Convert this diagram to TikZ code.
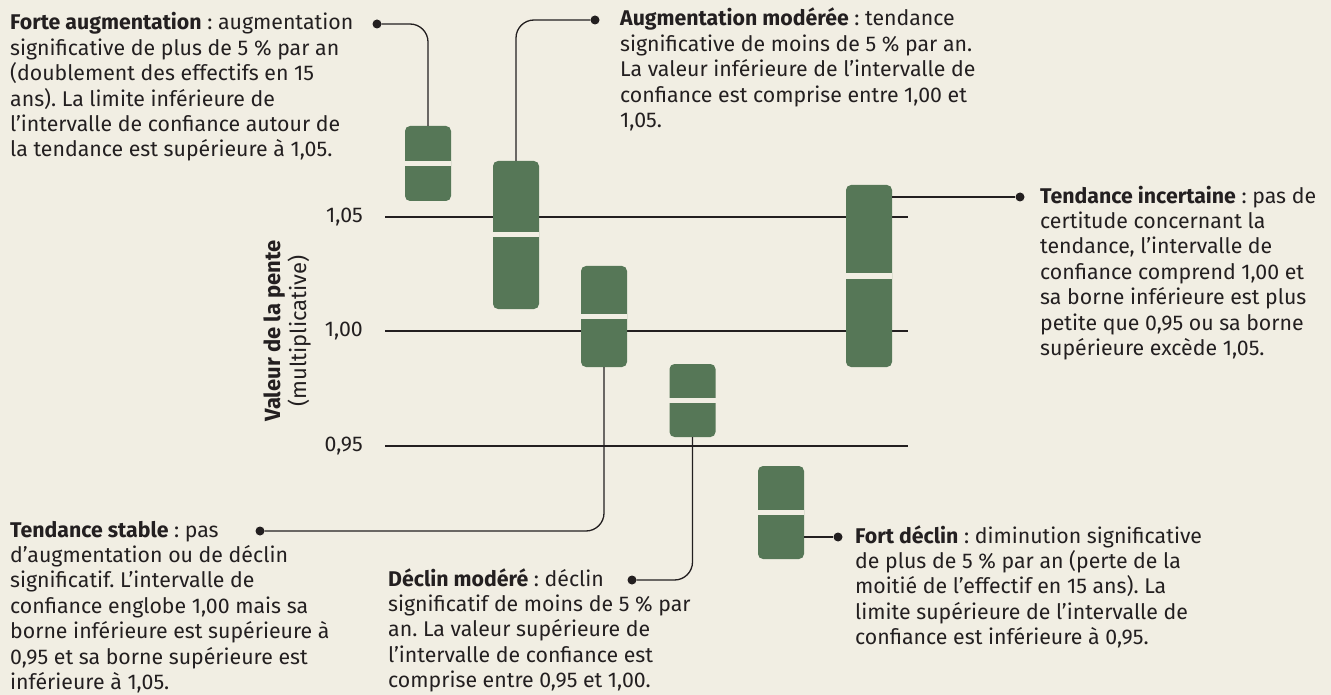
\documentclass[tikz,border=0pt]{standalone}
\usepackage{fontspec}
\setmainfont{Fira Sans}
\frenchspacing
\definecolor{fond}{HTML}{F1EEE3}
\definecolor{vert}{HTML}{567757}
\definecolor{encre}{HTML}{231F20}

\begin{document}
\begin{tikzpicture}[
  x=1pt, y=-1pt,
  bar/.style={fill=vert, rounded corners=5pt, minimum width=46pt, inner sep=0pt},
  med/.style={draw=fond, line width=5pt},
  grid/.style={draw=encre, line width=1.2pt},
  conn/.style={draw=encre, line width=1.3pt, rounded corners=18pt},
  dot/.style={circle, fill=encre, inner sep=0pt, minimum size=9pt},
  note/.style={align=left, anchor=base west, inner sep=0pt, text=encre,
               font=\fontsize{21.3}{25.4}\selectfont},
  tick/.style={anchor=east, inner sep=0pt, text=encre, font=\fontsize{21.3}{24}\selectfont}
]
\fill[fond] (0,0) rectangle (1331,695);
\useasboundingbox (0,0) rectangle (1331,695);

% axe
\node[tick] (t105) at (363,217) {1,05};
\node[tick] (t100) at (363,331) {1,00};
\node[tick] (t095) at (363,446) {0,95};
\draw[grid] (385,217) -- (908,217);
\draw[grid] (385,331) -- (908,331);
\draw[grid] (385,446) -- (908,446);
\node[rotate=90, align=center, text=encre, inner sep=0pt,
      font=\fontsize{22}{26}\selectfont] (titre) at (287,331)
  {\bfseries Valeur de la pente\\(multiplicative)};

% intervalles
\node[bar, minimum height=75pt]  (fort)  at (428,163.5) {};
\node[bar, minimum height=148pt] (mod)   at (516,235)   {};
\node[bar, minimum height=101pt] (stab)  at (604,316.5) {};
\node[bar, minimum height=73pt]  (dmod)  at (692.5,400.5) {};
\node[bar, minimum height=93pt]  (dfort) at (781,512.5) {};
\node[bar, minimum height=182pt] (inc)   at (869,276)   {};
\foreach \b in {fort,mod,stab,dmod,dfort,inc}
  \draw[med] (\b.west) -- (\b.east);

% points
\node[dot] (pfort)  at (377,24)  {};
\node[dot] (pmod)   at (595,20)  {};
\node[dot] (pinc)   at (1020,197) {};
\node[dot] (pstab)  at (260,531) {};
\node[dot] (pdmod)  at (632,580) {};
\node[dot] (pdfort) at (838,537) {};

\draw[conn] (pfort) -| (fort.north);
\draw[conn] (mod.north) |- (pmod);
\draw[conn] (inc.east |- pinc) -- (pinc);
\draw[conn] (stab.south) |- (pstab);
\draw[conn] (dmod.south) |- (pdmod);
\draw[conn] (dfort.east |- pdfort) -- (pdfort);

% textes (ancre = ligne de base de la derniere ligne)
\node[note] (nfort) at (10,157) {\textbf{Forte augmentation} : augmentation\\
  significative de plus de 5 \% par an\\(doublement des effectifs en 15\\
  ans). La limite inférieure de\\l’intervalle de confiance autour de\\
  la tendance est supérieure à 1,05.};
\node[note] (nmod) at (620,127.6) {\textbf{Augmentation modérée} : tendance\\
  significative de moins de 5 \% par an.\\La valeur inférieure de l’intervalle de\\
  confiance est comprise entre 1,00 et\\1,05.};
\node[note] (ninc) at (1040,355.4) {\textbf{Tendance incertaine} : pas de\\
  certitude concernant la\\tendance, l’intervalle de\\confiance comprend 1,00 et\\
  sa borne inférieure est plus\\petite que 0,95 ou sa borne\\supérieure excède 1,05.};
\node[note] (nstab) at (10,689.4) {\textbf{Tendance stable} : pas\\
  d’augmentation ou de déclin\\significatif. L’intervalle de\\
  confiance englobe 1,00 mais sa\\borne inférieure est supérieure à\\
  0,95 et sa borne supérieure est\\inférieure à 1,05.};
\node[note] (ndmod) at (388,687.6) {\textbf{Déclin modéré} : déclin\\
  significatif de moins de 5 \% par\\an. La valeur supérieure de\\
  l’intervalle de confiance est\\comprise entre 0,95 et 1,00.};
\node[note] (ndfort) at (855,644.6) {\textbf{Fort déclin} : diminution significative\\
  de plus de 5 \% par an (perte de la\\moitié de l’effectif en 15 ans). La\\
  limite supérieure de l’intervalle de\\confiance est inférieure à 0,95.};
\end{tikzpicture}
\end{document}
